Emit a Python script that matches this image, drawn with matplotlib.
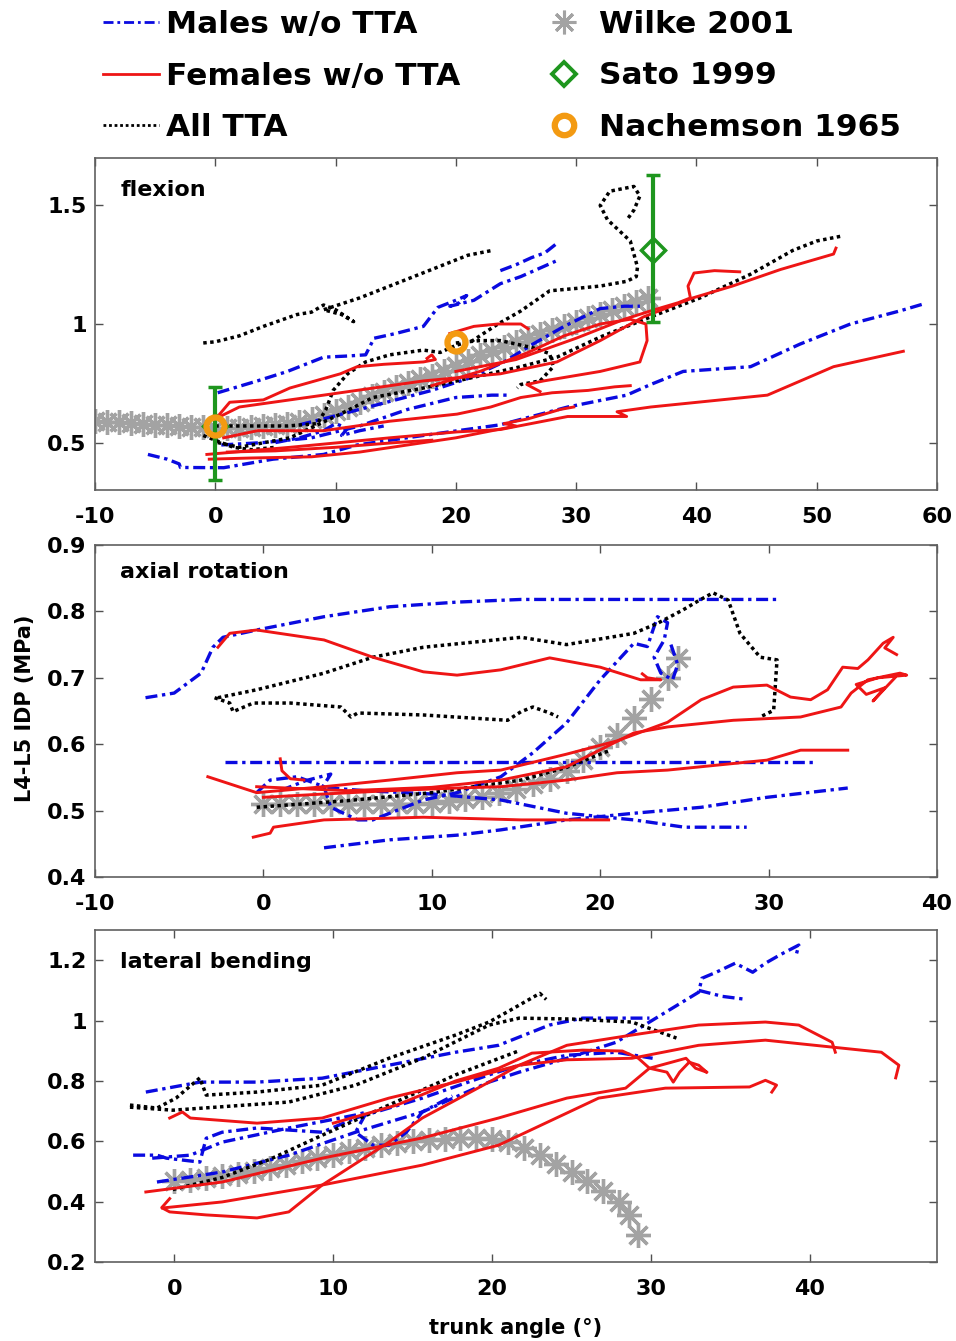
#! -*- coding: utf-8 -*-
import matplotlib
matplotlib.use('Agg')
import matplotlib.pyplot as plt
from matplotlib.lines import Line2D

# ---------------- flexion ----------------
flex_wilke_x = [-10, -9, -8, -7, -6, -5, -4, -3, -2, -1, 0, 1, 2, 3, 4, 5, 6, 7, 8, 9, 10,
                11, 12, 13, 14, 15, 16, 17, 18, 19, 20, 21, 22, 23, 24, 25, 26, 27, 28,
                29, 30, 31, 32, 33, 34, 35, 36]
flex_wilke_y = [0.59, 0.588, 0.585, 0.582, 0.579, 0.576, 0.573, 0.57, 0.567, 0.564, 0.562,
                0.562, 0.563, 0.565, 0.568, 0.572, 0.578, 0.588, 0.60, 0.615, 0.632, 0.65,
                0.672, 0.695, 0.715, 0.733, 0.75, 0.766, 0.782, 0.80, 0.822, 0.845, 0.868,
                0.888, 0.905, 0.922, 0.94, 0.957, 0.975, 0.993, 1.01, 1.027, 1.044, 1.06,
                1.076, 1.092, 1.108]
sato_x = [0, 36.4]
sato_y = [0.57, 1.31]
sato_err_lo = [0.227, 0.30]
sato_err_hi = [0.163, 0.32]
nach_x = [0, 20]
nach_y = [0.57, 0.925]

flex_male_x = [
    [0.2, 3.5, 6.0, 9.0, 11.0, 12.5, 13.2, 15.0, 17.3, 18.5, 20.0, 20.9, 20.3, 19.5, 21.5, 23.7, 25.4, 28.3],
    [23.7, 25.0, 26.3, 27.4, 28.4],
    [7.0, 9.0, 12.0, 15.0, 18.0, 21.0, 24.0, 26.4, 29.0, 32.0, 34.0, 35.3],
    [-5.6, -4.0, -3.0, -2.9, 0.7, 4.8, 9.0, 11.8, 17.3, 23.7, 29.3, 34.2, 36.2, 38.9, 44.5, 48.6, 52.8, 56.9, 58.9],
    [0.5, 4.0, 8.0, 12.0, 16.0, 20.0, 23.0, 24.5],
    [5.0, 7.0, 9.0, 10.0, 11.0, 10.5, 12.0, 14.0],
]
flex_male_y = [
    [0.71, 0.76, 0.80, 0.86, 0.865, 0.87, 0.94, 0.96, 0.99, 1.07, 1.10, 1.12, 1.09, 1.075, 1.10, 1.17, 1.20, 1.265],
    [1.225, 1.25, 1.28, 1.30, 1.34],
    [0.575, 0.60, 0.64, 0.68, 0.72, 0.77, 0.84, 0.915, 0.99, 1.065, 1.075, 1.075],
    [0.45, 0.43, 0.41, 0.395, 0.394, 0.43, 0.45, 0.49, 0.53, 0.575, 0.65, 0.70, 0.745, 0.80, 0.82, 0.915, 1.0, 1.055, 1.085],
    [0.49, 0.50, 0.52, 0.57, 0.64, 0.69, 0.70, 0.70],
    [0.50, 0.52, 0.55, 0.58, 0.56, 0.53, 0.55, 0.57],
]
flex_fem_x = [
    [0.2, 1.2, 4.0, 6.2, 10.4, 11.8, 14.0, 17.3, 18.3, 18.0, 17.6],
    [0.0, 2.0, 9.0, 17.3, 23.7, 28.4, 32.0, 35.6, 39.7, 43.0, 47.0, 51.4, 51.6],
    [20.0, 25.0, 30.0, 34.0, 36.5, 38.5, 39.5, 39.3, 39.8, 41.5, 43.6],
    [18.0, 22.0, 26.0, 29.0, 32.0, 34.5, 35.8, 35.9, 35.3, 32.0, 27.3, 25.9, 27.0],
    [-0.7, 6.2, 14.5, 20.1, 23.7, 29.3, 34.2, 33.4, 36.2, 45.9, 51.4, 57.2],
    [-0.5, 3.0, 8.0, 12.0, 16.0, 20.0, 23.0, 25.0, 24.0, 26.0, 28.7, 29.8],
    [0.7, 3.5, 9.0, 14.5, 20.1, 22.9, 25.4, 28.0, 31.0, 33.2, 34.5],
    [1.0, 5.0, 10.0, 15.0, 18.0],
    [19.5, 21.5, 23.5, 25.4, 26.0],
]
flex_fem_y = [
    [0.61, 0.67, 0.68, 0.73, 0.79, 0.82, 0.83, 0.84, 0.85, 0.87, 0.855],
    [0.60, 0.65, 0.70, 0.76, 0.79, 0.84, 0.93, 1.03, 1.11, 1.16, 1.23, 1.295, 1.32],
    [0.80, 0.85, 0.94, 1.02, 1.06, 1.09, 1.11, 1.16, 1.215, 1.225, 1.22],
    [0.74, 0.80, 0.88, 0.95, 1.0, 1.02, 1.0, 0.93, 0.84, 0.80, 0.76, 0.745, 0.715],
    [0.45, 0.48, 0.52, 0.545, 0.555, 0.61, 0.61, 0.63, 0.65, 0.70, 0.82, 0.885],
    [0.43, 0.435, 0.44, 0.46, 0.49, 0.52, 0.55, 0.57, 0.58, 0.60, 0.64, 0.65],
    [0.52, 0.55, 0.55, 0.59, 0.62, 0.65, 0.69, 0.71, 0.72, 0.735, 0.74],
    [0.46, 0.465, 0.48, 0.50, 0.51],
    [0.96, 0.99, 1.0, 1.0, 0.98],
]
flex_tta_x = [
    [-1.0, 0.0, 2.0, 4.0, 6.8, 8.0, 9.0, 10.0, 11.5, 10.5, 9.0, 12.0, 14.5, 18.0, 21.0, 23.0],
    [0.0, 3.0, 6.0, 8.5, 9.2, 9.8, 11.0, 12.5, 14.5, 17.3, 18.7, 20.0, 21.4, 23.5, 25.4, 27.8, 30.0,
     32.0, 34.2, 35.0, 35.1, 34.5, 32.6, 32.0, 32.8, 34.8, 35.3, 34.8, 34.3],
    [0.2, 2.0, 6.2, 10.4, 13.1, 17.3, 21.0, 25.4, 28.4, 32.0, 36.2, 40.3, 44.5, 48.0, 50.0, 52.0],
    [20.0, 22.0, 23.7, 26.4, 27.8, 28.1, 27.0, 25.4, 25.1],
    [-1.0, 0.0, 1.5, 3.0, 5.0],
]
flex_tta_y = [
    [0.92, 0.925, 0.95, 0.99, 1.04, 1.05, 1.08, 1.06, 1.01, 1.04, 1.06, 1.11, 1.16, 1.23, 1.29, 1.31],
    [0.57, 0.57, 0.57, 0.58, 0.64, 0.72, 0.79, 0.84, 0.87, 0.89, 0.88, 0.91, 0.93, 1.0, 1.055, 1.14, 1.15,
     1.16, 1.18, 1.20, 1.24, 1.35, 1.44, 1.50, 1.56, 1.58, 1.54, 1.48, 1.445],
    [0.50, 0.48, 0.52, 0.62, 0.69, 0.73, 0.77, 0.82, 0.86, 0.945, 1.03, 1.11, 1.21, 1.31, 1.35, 1.37],
    [0.92, 0.93, 0.93, 0.90, 0.875, 0.82, 0.76, 0.745, 0.73],
    [0.53, 0.51, 0.48, 0.47, 0.48],
]

# ---------------- axial rotation ----------------
axial_wilke_x = [0, 1, 2, 3, 4, 5, 6, 7, 8, 9, 10, 11, 12, 13, 14, 15, 16, 17, 18, 19, 20,
                 21, 22, 23, 24, 24.6]
axial_wilke_y = [0.51, 0.51, 0.51, 0.51, 0.51, 0.51, 0.51, 0.51, 0.51, 0.51, 0.512, 0.514,
                 0.517, 0.521, 0.527, 0.533, 0.54, 0.548, 0.56, 0.576, 0.596, 0.614, 0.64,
                 0.668, 0.70, 0.73]
axial_male_x = [
    [-7.0, -5.3, -3.7, -3.0, -2.4, -0.4, 3.6, 7.5, 11.5, 15.3, 20.0, 25.0, 30.5],
    [-2.3, 5.0, 15.0, 25.0, 32.8],
    [-0.4, 0.4, 2.0, 3.6, 4.0, 5.6, 6.5, 9.5, 11.5, 14.1, 16.0, 18.0, 20.0, 22.0, 22.8, 23.4,
     24.0, 23.8, 23.2, 23.6, 24.3, 24.6, 24.2],
    [1.0, 2.5, 4.0, 3.5, 6.0, 10.0, 14.1, 18.0, 22.0, 25.0, 28.7],
    [3.6, 7.5, 11.5, 14.1, 18.0, 22.0, 26.0, 29.9, 34.7],
]
axial_male_y = [
    [0.670, 0.677, 0.707, 0.746, 0.761, 0.772, 0.792, 0.807, 0.814, 0.818, 0.818, 0.818, 0.818],
    [0.573, 0.573, 0.573, 0.573, 0.573],
    [0.527, 0.546, 0.551, 0.536, 0.505, 0.486, 0.486, 0.516, 0.527, 0.551, 0.587, 0.632, 0.697,
     0.752, 0.747, 0.792, 0.783, 0.757, 0.731, 0.707, 0.697, 0.72, 0.75],
    [0.53, 0.545, 0.555, 0.535, 0.53, 0.525, 0.516, 0.496, 0.486, 0.475, 0.475],
    [0.444, 0.456, 0.463, 0.471, 0.486, 0.496, 0.505, 0.520, 0.534],
]
axial_fem_x = [
    [-2.7, -2.0, -0.4, 3.6, 6.5, 9.5, 11.5, 14.1, 17.0, 20.0, 22.4, 23.6, 22.8, 22.5],
    [-3.3, -0.4, 3.6, 7.5, 11.5, 14.1, 18.0, 21.0, 24.0, 26.0, 27.9, 29.9, 31.3, 32.5, 33.5,
     34.4, 35.3, 35.9, 36.8, 37.4, 36.9, 37.6],
    [-0.4, 5.0, 10.0, 14.1, 18.0, 22.0, 24.0, 27.9, 31.9, 34.3, 34.9, 35.9, 37.8, 38.2, 36.5,
     35.2, 35.8, 36.9, 36.2, 37.5],
    [0.0, 3.6, 7.5, 11.5, 14.1, 18.0, 21.0, 24.0, 29.9, 31.9, 34.7],
    [-0.6, 0.4, 0.6, 3.6, 9.5, 15.3, 20.5],
    [1.0, 1.1, 1.6, 2.4],
]
axial_fem_y = [
    [0.746, 0.767, 0.772, 0.757, 0.731, 0.709, 0.704, 0.712, 0.730, 0.716, 0.697, 0.697, 0.700, 0.706],
    [0.551, 0.527, 0.536, 0.546, 0.557, 0.561, 0.585, 0.605, 0.633, 0.667, 0.686, 0.689, 0.671,
     0.667, 0.682, 0.716, 0.714, 0.727, 0.752, 0.761, 0.745, 0.735],
    [0.536, 0.530, 0.535, 0.546, 0.566, 0.617, 0.626, 0.636, 0.641, 0.656, 0.677, 0.697, 0.707,
     0.704, 0.700, 0.690, 0.675, 0.685, 0.665, 0.700],
    [0.52, 0.525, 0.53, 0.534, 0.536, 0.546, 0.557, 0.561, 0.576, 0.591, 0.591],
    [0.460, 0.466, 0.475, 0.486, 0.490, 0.486, 0.486],
    [0.578, 0.560, 0.548, 0.546],
]
axial_tta_x = [
    [-2.7, -0.4, 3.6, 6.5, 9.5, 15.3, 18.0, 22.0, 23.4, 24.9, 25.9, 26.7, 27.6, 28.3, 29.5,
     30.5, 30.3, 29.5],
    [-2.9, -2.0, -1.8, -0.6, 1.6, 4.6, 5.2, 5.6, 9.5, 14.5, 15.3, 16.0, 17.0, 17.5],
    [-0.4, 5.0, 10.0, 15.3, 18.0, 20.6],
]
axial_tta_y = [
    [0.670, 0.682, 0.707, 0.731, 0.746, 0.761, 0.750, 0.767, 0.782, 0.802, 0.817, 0.828, 0.817,
     0.767, 0.731, 0.727, 0.651, 0.641],
    [0.670, 0.662, 0.649, 0.662, 0.662, 0.656, 0.641, 0.647, 0.644, 0.636, 0.649, 0.656, 0.647, 0.641],
    [0.505, 0.515, 0.527, 0.546, 0.565, 0.591],
]

# ---------------- lateral bending ----------------
lat_wilke_x = [0, 1, 2, 3, 4, 5, 6, 7, 8, 9, 10, 11, 12, 13, 14, 15, 16, 17, 18, 19, 20, 21,
               22, 23, 24, 25, 26, 27, 28, 28.6, 29.2]
lat_wilke_y = [0.47, 0.472, 0.477, 0.484, 0.492, 0.50, 0.51, 0.522, 0.533, 0.544, 0.556, 0.567,
               0.578, 0.586, 0.593, 0.60, 0.605, 0.609, 0.611, 0.612, 0.608, 0.597, 0.578,
               0.554, 0.526, 0.498, 0.468, 0.436, 0.40, 0.355, 0.29]
lat_male_x = [
    [-1.1, 3.0, 7.2, 11.4, 15.6, 19.8, 21.7, 24.7, 27.8, 29.9, 33.0, 33.2, 34.1, 35.3, 36.4,
     37.2, 38.2, 39.3, 39.1],
    [33.0, 34.5, 36.0],
    [-2.6, -1.1, -0.5, 1.6, 2.0, 3.0, 5.2, 9.3, 11.4, 15.6, 19.8, 21.7, 24.7, 27.8, 30.1],
    [-1.4, 1.0, 3.0, 7.2, 11.4, 12.1, 11.4, 12.5, 13.5, 14.6, 15.6, 17.5],
    [-1.8, 1.6, 5.2, 9.3, 13.5, 17.7, 20.4, 23.6, 25.7, 29.9],
]
lat_male_y = [
    [0.465, 0.498, 0.554, 0.63, 0.697, 0.796, 0.829, 0.875, 0.928, 0.995, 1.094, 1.14, 1.16,
     1.19, 1.16, 1.19, 1.22, 1.25, 1.21],
    [1.10, 1.08, 1.07],
    [0.554, 0.554, 0.544, 0.531, 0.61, 0.63, 0.644, 0.63, 0.677, 0.743, 0.82, 0.852, 0.885, 0.895, 0.875],
    [0.544, 0.554, 0.597, 0.644, 0.687, 0.697, 0.63, 0.587, 0.587, 0.63, 0.697, 0.75],
    [0.763, 0.796, 0.796, 0.809, 0.852, 0.895, 0.918, 0.985, 1.008, 1.008],
]
lat_fem_x = [
    [-0.3, 0.5, 1.0, 5.2, 9.3, 13.5, 17.7, 21.7, 24.7, 28.8, 33.0, 37.2, 39.3, 41.4, 41.6],
    [-0.3, -0.8, -0.3, 2.0, 5.2, 7.2, 9.3, 13.5, 15.6, 19.8, 21.7, 24.7, 28.8, 33.0, 37.2,
     41.4, 44.5, 45.6, 45.4],
    [-1.8, 3.0, 9.3, 15.6, 20.4, 24.7, 28.4, 29.9, 31.3, 32.2, 32.8, 33.5, 33.2],
    [-0.75, 3.0, 9.3, 15.6, 20.4, 26.7, 30.9, 36.2, 37.2, 37.9, 37.6],
    [10.0, 14.0, 17.7, 20.4, 22.5, 25.7, 28.2, 29.2, 29.9, 31.0, 31.4, 31.8, 32.4, 33.0, 33.5],
]
lat_fem_y = [
    [0.677, 0.697, 0.677, 0.66, 0.677, 0.743, 0.796, 0.852, 0.918, 0.952, 0.985, 0.995, 0.985, 0.928, 0.895],
    [0.41, 0.38, 0.366, 0.356, 0.346, 0.366, 0.455, 0.597, 0.677, 0.796, 0.852, 0.87, 0.875,
     0.918, 0.935, 0.912, 0.895, 0.852, 0.81],
    [0.432, 0.465, 0.544, 0.611, 0.677, 0.743, 0.776, 0.842, 0.862, 0.875, 0.842, 0.829, 0.84],
    [0.379, 0.399, 0.455, 0.521, 0.587, 0.743, 0.776, 0.78, 0.802, 0.786, 0.763],
    [0.66, 0.72, 0.80, 0.842, 0.892, 0.902, 0.899, 0.875, 0.842, 0.829, 0.796, 0.829, 0.862, 0.852, 0.829],
]
lat_tta_x = [
    [-2.8, -1.1, 0.1, 1.6, 2.0, 5.2, 9.3, 13.5, 17.7, 19.8, 21.0, 23.0, 23.4],
    [-2.8, -0.1, 7.2, 11.4, 15.6, 19.8, 21.7, 25.0, 28.8, 31.6],
    [-0.1, 3.0, 6.0, 9.3, 13.5, 17.7, 21.7],
]
lat_tta_y = [
    [0.72, 0.71, 0.743, 0.81, 0.753, 0.763, 0.786, 0.875, 0.952, 0.995, 1.03, 1.09, 1.07],
    [0.713, 0.703, 0.73, 0.786, 0.875, 0.985, 1.008, 1.005, 0.995, 0.942],
    [0.44, 0.48, 0.54, 0.62, 0.72, 0.82, 0.90],
]

# ticks
flex_xticks = [-10, 0, 10, 20, 30, 40, 50, 60]
flex_yticks = [0.5, 1, 1.5]
flex_yticklabels = ['0.5', '1', '1.5']
axial_xticks = [-10, 0, 10, 20, 30, 40]
axial_yticks = [0.4, 0.5, 0.6, 0.7, 0.8, 0.9]
axial_yticklabels = ['0.4', '0.5', '0.6', '0.7', '0.8', '0.9']
lat_xticks = [0, 10, 20, 30, 40]
lat_yticks = [0.2, 0.4, 0.6, 0.8, 1.0, 1.2]
lat_yticklabels = ['0.2', '0.4', '0.6', '0.8', '1', '1.2']

BLUE = '#0a0ae0'
RED = '#ee1515'
GRAY = '#a3a3a3'
GREEN = '#1e961e'
ORANGE = '#f39a12'
DASHDOT = (0, (3.6, 1.4, 1.0, 1.4))
DOTTED = (0, (1.0, 1.0))
ASTER = (8, 2, 0)

plt.rcParams['font.family'] = ['DejaVu Sans']
plt.rcParams['font.weight'] = 'bold'


def draw_panel(ax, wx, wy, mx, my, fx, fy, tx, ty):
    ax.plot(wx, wy, ls='none', marker=ASTER, ms=18, mew=2.4, color=GRAY, zorder=1)
    for x, y in zip(mx, my):
        ax.plot(x, y, color=BLUE, ls=DASHDOT, lw=2.4, zorder=2)
    for x, y in zip(tx, ty):
        ax.plot(x, y, color='black', ls=DOTTED, lw=2.5, zorder=3)
    for x, y in zip(fx, fy):
        ax.plot(x, y, color=RED, lw=2.1, zorder=4)


def style_axes(ax, xlim, ylim, xticks, yticks, ylabels, title, ty):
    ax.set_xlim(xlim)
    ax.set_ylim(ylim)
    ax.set_xticks(xticks)
    ax.set_xticklabels([str(t) for t in xticks])
    ax.set_yticks(yticks)
    ax.set_yticklabels(ylabels)
    ax.tick_params(direction='in', top=True, right=True, length=6, width=1,
                   labelsize=16, color='#505050')
    ax.tick_params(axis='x', pad=12)
    ax.tick_params(axis='y', pad=6)
    for s in ax.spines.values():
        s.set_color('#606060')
        s.set_linewidth(1.2)
    ax.text(0.03, ty, title, transform=ax.transAxes, fontsize=16,
            fontweight='bold', va='center', ha='left')


fig = plt.figure(figsize=(9.56, 13.41), dpi=100)
W, H = 956.0, 1341.0
ax1 = fig.add_axes([95 / W, 1 - 490 / H, 842 / W, 332 / H])
ax2 = fig.add_axes([95 / W, 1 - 877 / H, 842 / W, 332 / H])
ax3 = fig.add_axes([95 / W, 1 - 1262 / H, 842 / W, 332 / H])

draw_panel(ax1, flex_wilke_x, flex_wilke_y, flex_male_x, flex_male_y,
           flex_fem_x, flex_fem_y, flex_tta_x, flex_tta_y)
ax1.errorbar(sato_x, sato_y, yerr=[sato_err_lo, sato_err_hi], fmt='D', color=GREEN,
             ms=12, mfc='none', mew=2.5, elinewidth=3, capsize=5, capthick=3, zorder=5)
ax1.plot(nach_x, nach_y, ls='none', marker='o', ms=13, mfc='none', mec=ORANGE,
         mew=4.5, zorder=6)
style_axes(ax1, (-10, 60), (0.3, 1.7), flex_xticks, flex_yticks, flex_yticklabels,
           'flexion', 0.905)

draw_panel(ax2, axial_wilke_x, axial_wilke_y, axial_male_x, axial_male_y,
           axial_fem_x, axial_fem_y, axial_tta_x, axial_tta_y)
style_axes(ax2, (-10, 40), (0.4, 0.9), axial_xticks, axial_yticks, axial_yticklabels,
           'axial rotation', 0.92)

draw_panel(ax3, lat_wilke_x, lat_wilke_y, lat_male_x, lat_male_y,
           lat_fem_x, lat_fem_y, lat_tta_x, lat_tta_y)
style_axes(ax3, (-5, 48), (0.2, 1.3), lat_xticks, lat_yticks, lat_yticklabels,
           'lateral bending', 0.905)
ax3.set_xlabel('trunk angle (°)', fontsize=15, fontweight='bold', labelpad=14)

fig.text(25 / W, 1 - 708 / H, 'L4-L5 IDP (MPa)', rotation=90, fontsize=15,
         fontweight='bold', ha='center', va='center')

handles = [
    Line2D([], [], color=BLUE, ls=DASHDOT, lw=2.0),
    Line2D([], [], color=RED, lw=2.0),
    Line2D([], [], color='black', ls=DOTTED, lw=2.0),
    Line2D([], [], ls='none', marker=ASTER, ms=17, mew=2.2, color=GRAY),
    Line2D([], [], ls='none', marker='D', ms=12, mfc='none', mew=2.8, color=GREEN),
    Line2D([], [], ls='none', marker='o', ms=14, mfc='none', mew=4.5, color=ORANGE),
]
labels = ['Males w/o TTA', 'Females w/o TTA', 'All TTA', 'Wilke 2001', 'Sato 1999',
          'Nachemson 1965']
fig.legend(handles, labels, loc='upper left', bbox_to_anchor=(103 / W, 1 - 10 / H),
           ncol=2, frameon=False, prop={'size': 22.5, 'weight': 'bold'},
           handlelength=1.8, handletextpad=0.2, columnspacing=2.45,
           labelspacing=0.72, borderpad=0, borderaxespad=0)

fig.savefig('out.png', dpi=100)
